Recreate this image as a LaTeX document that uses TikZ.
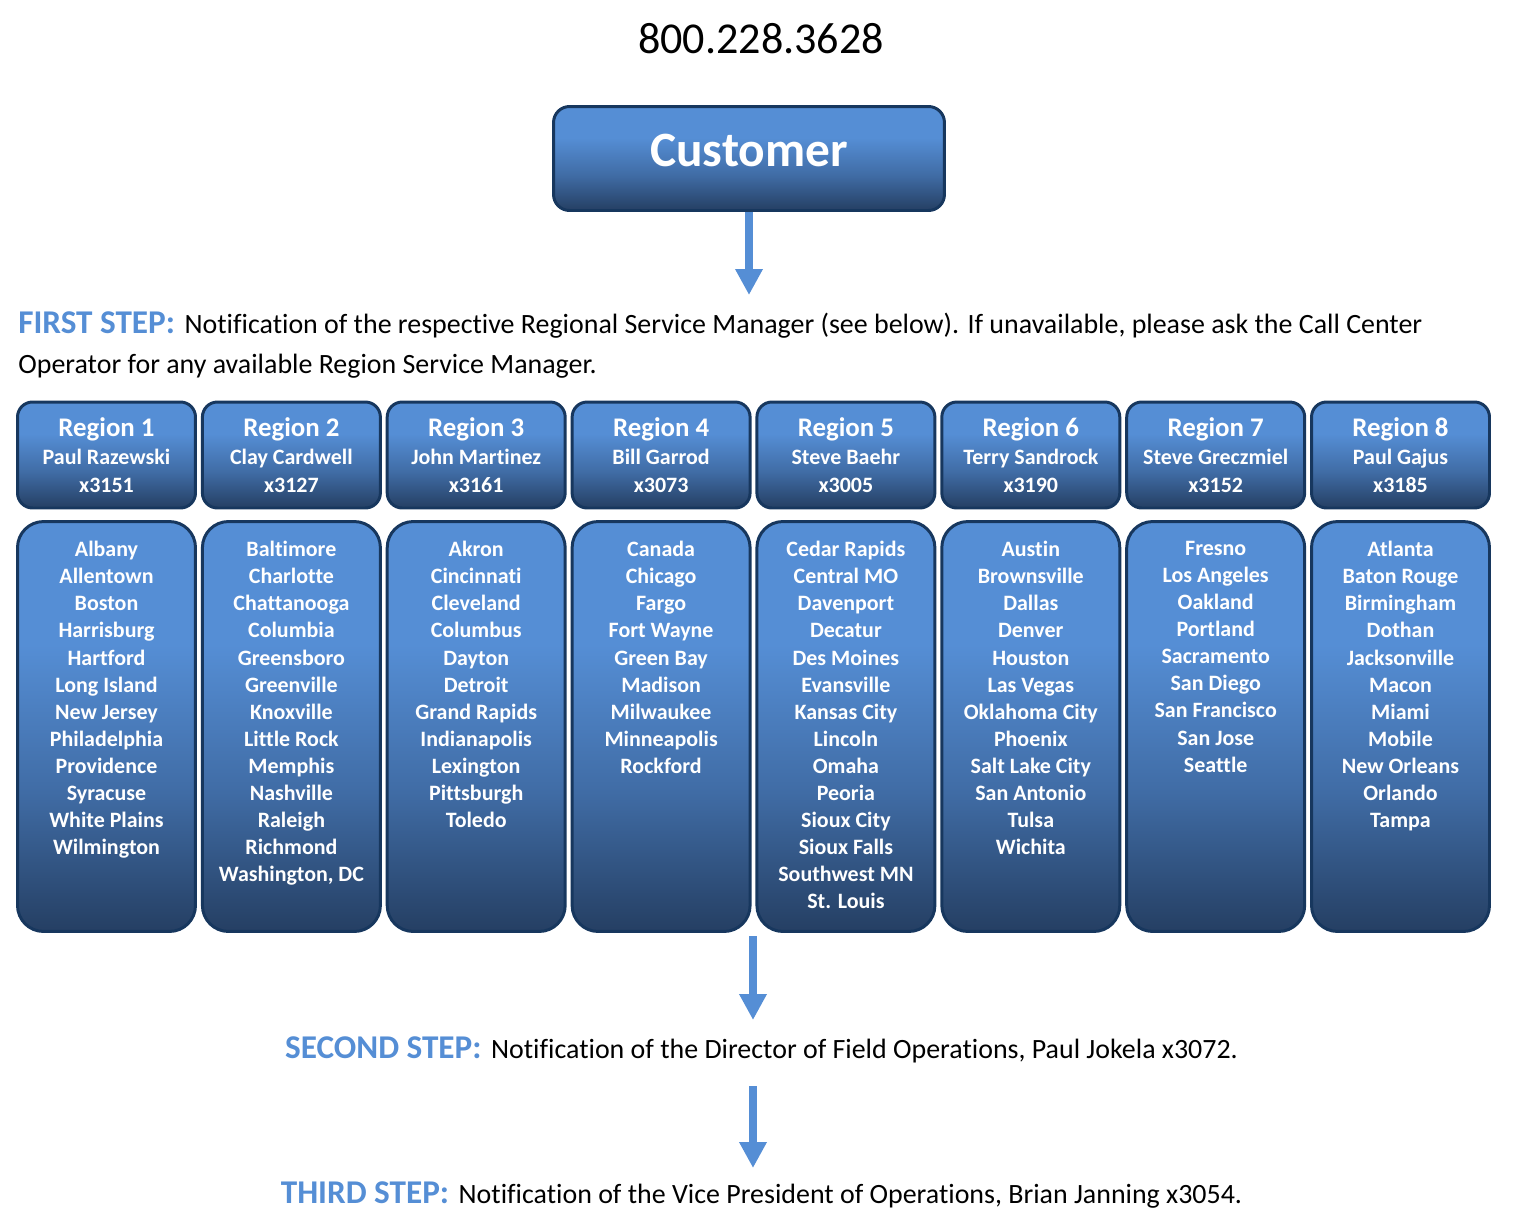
\documentclass[tikz,border=0pt]{standalone}
\usepackage{fontspec}
\setmainfont{Carlito}[Ligatures = NoCommon]
\usetikzlibrary{arrows.meta}
\definecolor{boxlight}{RGB}{85,142,213}
\definecolor{boxmid}{RGB}{64,108,165}
\definecolor{boxdark}{RGB}{37,63,99}
\definecolor{boxedge}{RGB}{23,55,94}
\definecolor{stepblue}{RGB}{85,142,213}
\pgfdeclareverticalshading{boxshade}{100bp}{color(0bp)=(boxdark); color(25bp)=(boxdark); color(42bp)=(boxmid); color(60bp)=(boxlight); color(75bp)=(boxlight); color(100bp)=(boxlight)}
\newcommand{\steplabel}[1]{{\color{stepblue}\fontsize{18.9}{21.8}\selectfont\bfseries #1\ \kern1.2pt}}
\newcommand{\regtitle}[1]{{\fontsize{15.3}{15.9}\selectfont #1}}

\begin{document}
\begin{tikzpicture}[
    x = 0.02cm, y = -0.02cm,
    box/.style = {draw = boxedge, line width = 1.7pt, shading = boxshade, text = white, inner sep = 0pt},
    headbox/.style = {box, rounded corners = 0.3cm, minimum width = 3.56cm, minimum height = 2.12cm,
                      align = center, font = \bfseries\fontsize{12.5}{15.9}\selectfont},
    citybox/.style = {box, rounded corners = 0.52cm, minimum width = 3.56cm, minimum height = 8.2cm},
    citylist/.style = {anchor = north, inner sep = 0pt, align = center, text = white,
                       font = \bfseries\fontsize{12.5}{15.4}\selectfont},
    steptext/.style = {inner sep = 0pt, font = \fontsize{15.9}{23}\selectfont},
    steparrow/.style = {draw = stepblue, line width = 0.17cm, -{Triangle[width = 0.52cm, length = 0.52cm]}}
  ]
  \useasboundingbox (0, 0) rectangle (1522, 1228);
  % top
  \node[inner sep = 0pt, font = \fontsize{25.1}{30}\selectfont] (phone) at (761, 39) {800.228.3628};
  \node[box, rounded corners = 0.32cm, minimum width = 7.82cm, minimum height = 2.08cm, text depth = 0.32cm,
        font = \bfseries\fontsize{28.1}{32}\selectfont] (customer) at (749, 158.5) {Customer};
  \coordinate (tip1) at (749, 295);
  \node[steptext, align = left, anchor = north west] (first) at (18, 311)
    {\steplabel{FIRST STEP:}Notification of the respective Regional Service Manager (see below). If unavailable, please ask the Call Center\\
     Operator for any available Region Service Manager.};
  % region managers
  \node[headbox] (head1) at (106.5, 455) {\regtitle{Region 1}\\ Paul Razewski\\ x3151};
  \node[headbox] (head2) at (291.4, 455) {\regtitle{Region 2}\\ Clay Cardwell\\ x3127};
  \node[headbox] (head3) at (476.2, 455) {\regtitle{Region 3}\\ John Martinez\\ x3161};
  \node[headbox] (head4) at (661.1, 455) {\regtitle{Region 4}\\ Bill Garrod\\ x3073};
  \node[headbox] (head5) at (845.9, 455) {\regtitle{Region 5}\\ Steve Baehr\\ x3005};
  \node[headbox] (head6) at (1030.8, 455) {\regtitle{Region 6}\\ Terry Sandrock\\ x3190};
  \node[headbox] (head7) at (1215.7, 455) {\regtitle{Region 7}\\ Steve Greczmiel\\ x3152};
  \node[headbox] (head8) at (1400.5, 455) {\regtitle{Region 8}\\ Paul Gajus\\ x3185};
  % cities of each region
  \node[citybox] (cities1) at (106.5, 726.5) {};
  \node[citybox] (cities2) at (291.4, 726.5) {};
  \node[citybox] (cities3) at (476.2, 726.5) {};
  \node[citybox] (cities4) at (661.1, 726.5) {};
  \node[citybox] (cities5) at (845.9, 726.5) {};
  \node[citybox] (cities6) at (1030.8, 726.5) {};
  \node[citybox] (cities7) at (1215.7, 726.5) {};
  \node[citybox] (cities8) at (1400.5, 726.5) {};
  \node[citylist] (list1) at (106.5, 541) {Albany\\ Allentown\\ Boston\\ Harrisburg\\ Hartford\\ Long Island\\ New Jersey\\ Philadelphia\\ Providence\\ Syracuse\\ White Plains\\ Wilmington};
  \node[citylist] (list2) at (291.4, 541) {Baltimore\\ Charlotte\\ Chattanooga\\ Columbia\\ Greensboro\\ Greenville\\ Knoxville\\ Little Rock\\ Memphis\\ Nashville\\ Raleigh\\ Richmond\\ Washington, DC};
  \node[citylist] (list3) at (476.2, 541) {Akron\\ Cincinnati\\ Cleveland\\ Columbus\\ Dayton\\ Detroit\\ Grand Rapids\\ Indianapolis\\ Lexington\\ Pittsburgh\\ Toledo};
  \node[citylist] (list4) at (661.1, 541) {Canada\\ Chicago\\ Fargo\\ Fort Wayne\\ Green Bay\\ Madison\\ Milwaukee\\ Minneapolis\\ Rockford};
  \node[citylist] (list5) at (845.9, 541) {Cedar Rapids\\ Central MO\\ Davenport\\ Decatur\\ Des Moines\\ Evansville\\ Kansas City\\ Lincoln\\ Omaha\\ Peoria\\ Sioux City\\ Sioux Falls\\ Southwest MN\\ St. Louis};
  \node[citylist] (list6) at (1030.8, 541) {Austin\\ Brownsville\\ Dallas\\ Denver\\ Houston\\ Las Vegas\\ Oklahoma City\\ Phoenix\\ Salt Lake City\\ San Antonio\\ Tulsa\\ Wichita};
  \node[citylist] (list7) at (1215.7, 541) {Fresno\\ Los Angeles\\ Oakland\\ Portland\\ Sacramento\\ San Diego\\ San Francisco\\ San Jose\\ Seattle};
  \node[citylist] (list8) at (1400.5, 541) {Atlanta\\ Baton Rouge\\ Birmingham\\ Dothan\\ Jacksonville\\ Macon\\ Miami\\ Mobile\\ New Orleans\\ Orlando\\ Tampa};
  % escalation
  \coordinate (gap) at (753, 936);
  \node[steptext, anchor = base] (second) at (761.5, 1058)
    {\steplabel{SECOND STEP:}Notification of the Director of Field Operations, Paul Jokela x3072.};
  \node[steptext, anchor = base] (third) at (761.5, 1203)
    {\steplabel{THIRD STEP:}Notification of the Vice President of Operations, Brian Janning x3054.};
  \coordinate (tip2) at (753, 1020);
  \coordinate (tail3) at (753, 1086);
  \coordinate (tip3) at (753, 1168);
  % arrows
  \draw[steparrow] (customer.south) -- (tip1);
  \draw[steparrow] (gap) -- (tip2);
  \draw[steparrow] (tail3) -- (tip3);
\end{tikzpicture}
\end{document}
